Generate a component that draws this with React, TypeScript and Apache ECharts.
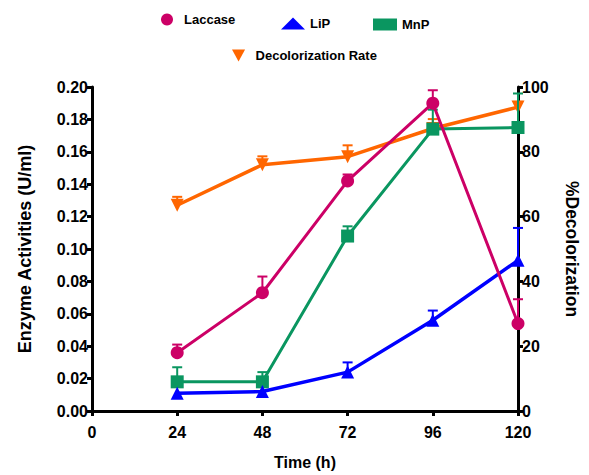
import React, { useEffect, useRef } from "react";
import * as echarts from "echarts";

const hours = [24, 48, 72, 96, 120];
const laccase = [0.036, 0.073, 0.142, 0.19, 0.054];
const laccaseErr = [0.005, 0.01, 0.004, 0.008, 0.015];
const lip = [0.011, 0.012, 0.024, 0.056, 0.093];
const lipErr = [0, 0, 0.006, 0.006, 0.02];
const mnp = [0.018, 0.018, 0.108, 0.174, 0.175];
const mnpErr = [0.009, 0.006, 0.006, 0.012, 0.021];
const decol = [63.5, 76, 78.5, 87.2, 93.8];
const decolErr = [2.6, 2.6, 3.5, 2.9, 1.6];

const xTicks = [0, 24, 48, 72, 96, 120];

const FONT = "'Liberation Sans', Arial, sans-serif";

const C_LAC = "#CC0066";
const C_LIP = "#0000FF";
const C_MNP = "#0A9660";
const C_DEC = "#FF6600";
const TRI_DOWN = "path://M0,0L12,0L6,11Z";

function pairs(ys: number[]) {
  return hours.map((h, i) => [h, ys[i]]);
}
function errPairs(ys: number[], es: number[]) {
  return hours.map((h, i) => [h, ys[i], es[i]]);
}

function errSeries(name: string, ys: number[], es: number[], color: string, yAxisIndex: number, z: number) {
  return {
    type: "custom",
    name: name + " err",
    yAxisIndex,
    z,
    clip: false,
    silent: true,
    data: errPairs(ys, es),
    renderItem: (params: any, api: any) => {
      const x = api.value(0);
      const y = api.value(1);
      const e = api.value(2);
      if (!e) return { type: "group", children: [] };
      const p0 = api.coord([x, y]);
      const p1 = api.coord([x, y + e]);
      return {
        type: "group",
        children: [
          { type: "line", shape: { x1: p0[0], y1: p0[1], x2: p1[0], y2: p1[1] }, style: { stroke: color, lineWidth: 2 } },
          { type: "line", shape: { x1: p1[0] - 5, y1: p1[1], x2: p1[0] + 5, y2: p1[1] }, style: { stroke: color, lineWidth: 2 } },
        ],
      };
    },
  };
}

export default function App() {
  const ref = useRef<HTMLDivElement>(null);
  useEffect(() => {
    if (!ref.current) return;
    document.body.style.margin = "0";
    const chart = echarts.init(ref.current, undefined, { renderer: "svg" });
    const legendText = { fontFamily: FONT, fontWeight: "bold", fontSize: 13, color: "#000" };
    const axisLabelStyle = { fontFamily: FONT, fontWeight: "bold", fontSize: 16, color: "#000" };
    const nameStyle = { fontFamily: FONT, fontWeight: "bold", fontSize: 18, color: "#000" };
    const axisLine = { show: true, onZero: false, lineStyle: { color: "#000", width: 3 } };
    const axisTick = { show: true, length: 5, lineStyle: { color: "#000", width: 3 } };
    chart.setOption({
      animation: false,
      backgroundColor: "#fff",
      grid: { left: 92, right: 66, top: 87, bottom: 58, containLabel: false },
      legend: [
        { data: ["Laccase"], left: 161, top: 13, padding: 0, itemWidth: 24, itemHeight: 12, icon: "circle", textStyle: legendText, selectedMode: false },
        { data: ["LiP"], left: 281, top: 17, padding: 0, itemWidth: 24, itemHeight: 12, icon: "triangle", textStyle: legendText, selectedMode: false },
        { data: ["MnP"], left: 373, top: 18, padding: 0, itemWidth: 24, itemHeight: 12, icon: "rect", textStyle: legendText, selectedMode: false },
        { data: ["Decolorization Rate"], left: 232, top: 49, padding: 0, itemWidth: 24, itemHeight: 12, icon: TRI_DOWN, textStyle: legendText, selectedMode: false },
      ],
      xAxis: {
        type: "value",
        min: 0,
        max: 120,
        interval: 24,
        name: "Time (h)",
        nameLocation: "middle",
        nameGap: 43,
        nameTextStyle: { ...nameStyle, fontSize: 16 },
        axisLine,
        axisTick,
        splitLine: { show: false },
        axisLabel: {
          ...axisLabelStyle,
          margin: 13,
          formatter: (v: number) => (xTicks.includes(v) ? String(v) : ""),
        },
      },
      yAxis: [
        {
          type: "value",
          min: 0,
          max: 0.2,
          interval: 0.02,
          position: "left",
          name: "Enzyme Activities (U/ml)",
          nameLocation: "middle",
          nameRotate: 90,
          nameGap: 58,
          nameTextStyle: nameStyle,
          axisLine,
          axisTick,
          splitLine: { show: false },
          axisLabel: { ...axisLabelStyle, margin: 4, formatter: (v: number) => v.toFixed(2) },
        },
        {
          type: "value",
          min: 0,
          max: 100,
          interval: 20,
          position: "right",
          name: "%Decolorization",
          nameLocation: "middle",
          nameRotate: -90,
          nameGap: 45,
          nameTextStyle: { ...nameStyle, fontSize: 17.5 },
          axisLine,
          axisTick,
          splitLine: { show: false },
          axisLabel: { ...axisLabelStyle, margin: 4 },
        },
      ],
      series: [
        errSeries("Decolorization Rate", decol, decolErr, C_DEC, 1, 1),
        {
          type: "line",
          name: "Decolorization Rate",
          yAxisIndex: 1,
          z: 2,
          data: pairs(decol),
          symbol: "triangle",
          symbolRotate: 180,
          symbolSize: 13,
          color: C_DEC,
          lineStyle: { width: 3.5, color: C_DEC },
          itemStyle: { color: C_DEC },
        },
        errSeries("MnP", mnp, mnpErr, C_MNP, 0, 3),
        {
          type: "line",
          name: "MnP",
          yAxisIndex: 0,
          z: 4,
          data: pairs(mnp),
          symbol: "rect",
          symbolSize: 13,
          color: C_MNP,
          lineStyle: { width: 3, color: C_MNP },
          itemStyle: { color: C_MNP },
        },
        errSeries("LiP", lip, lipErr, C_LIP, 0, 5),
        {
          type: "line",
          name: "LiP",
          yAxisIndex: 0,
          z: 6,
          data: pairs(lip),
          symbol: "triangle",
          symbolSize: 13,
          color: C_LIP,
          lineStyle: { width: 3.5, color: C_LIP },
          itemStyle: { color: C_LIP },
        },
        errSeries("Laccase", laccase, laccaseErr, C_LAC, 0, 7),
        {
          type: "line",
          name: "Laccase",
          yAxisIndex: 0,
          z: 8,
          data: pairs(laccase),
          symbol: "circle",
          symbolSize: 13,
          color: C_LAC,
          lineStyle: { width: 3, color: C_LAC },
          itemStyle: { color: C_LAC },
        },
      ],
    });
    return () => chart.dispose();
  }, []);
  return <div ref={ref} style={{ width: 589, height: 475 }} />;
}
